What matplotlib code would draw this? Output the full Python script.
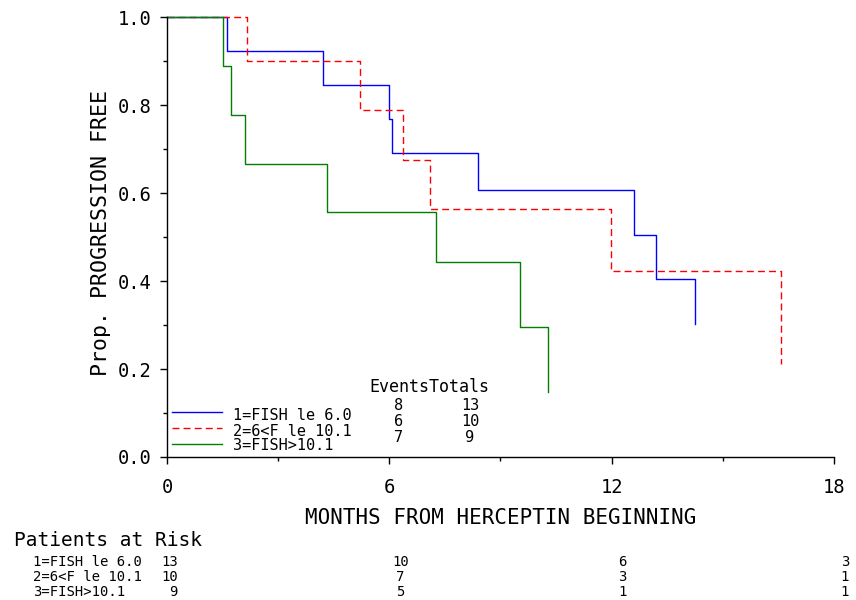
import matplotlib
matplotlib.use("Agg")
import matplotlib.pyplot as plt
from matplotlib.ticker import MultipleLocator, FixedLocator

FONT = "DejaVu Sans Mono"
plt.rcParams['font.family'] = [FONT]

# ---- data ----
group_labels = ["1=FISH le 6.0", "2=6<F le 10.1", "3=FISH>10.1"]
events = [8, 6, 7]
totals = [13, 10, 9]

t1 = [0, 1.62, 4.21, 5.99, 6.07, 8.38, 12.60, 13.20, 14.25]
s1 = [1.0, 0.923, 0.846, 0.769, 0.692, 0.606, 0.505, 0.404, 0.303]
t2 = [0, 2.16, 5.22, 6.37, 7.10, 11.98, 16.57]
s2 = [1.0, 0.900, 0.788, 0.675, 0.563, 0.422, 0.211]
t3 = [0, 1.52, 1.73, 2.10, 4.33, 7.27, 9.53, 10.27]
s3 = [1.0, 0.889, 0.778, 0.667, 0.556, 0.444, 0.296, 0.148]

risk_times = [0, 6, 12, 18]
risk1 = [13, 10, 6, 3]
risk2 = [10, 7, 3, 1]
risk3 = [9, 5, 1, 1]

x_ticks = [0, 6, 12, 18]
y_ticks = [0.0, 0.2, 0.4, 0.6, 0.8, 1.0]

W, H = 856, 600
fig = plt.figure(figsize=(W / 100, H / 100), dpi=100)
ax = fig.add_axes([167 / W, 1 - 457 / H, (834 - 167) / W, (457 - 17) / H])

styles = [dict(color="#0000ff", lw=1.0, ls="-"),
          dict(color="#ff0000", lw=1.0, ls=(0, (5, 3))),
          dict(color="#008000", lw=1.0, ls="-")]
curves = [(t1, s1), (t2, s2), (t3, s3)]
for (t, s), st in zip(curves, styles):
    ax.plot(t, s, drawstyle="steps-post", clip_on=False, **st)

ax.set_xlim(0, 18)
ax.set_ylim(0, 1.0)
for sp in ["top", "right"]:
    ax.spines[sp].set_visible(False)
for sp in ["left", "bottom"]:
    ax.spines[sp].set_linewidth(1.0)

ax.xaxis.set_major_locator(FixedLocator(x_ticks))
ax.set_xticklabels([str(v) for v in x_ticks])
ax.xaxis.set_minor_locator(MultipleLocator(3))
ax.yaxis.set_major_locator(FixedLocator(y_ticks))
ax.set_yticklabels([f"{v:.1f}" for v in y_ticks])
ax.yaxis.set_minor_locator(MultipleLocator(0.1))
ax.tick_params(axis="both", which="major", length=5, width=1.0, labelsize=13.5)
ax.tick_params(axis="x", which="major", pad=10)
ax.tick_params(axis="y", which="major", pad=6)
ax.tick_params(axis="both", which="minor", length=3, width=1.0)

ax.set_xlabel("MONTHS FROM HERCEPTIN BEGINNING", fontsize=15)
ax.xaxis.set_label_coords(0.5, -(518 - 457) / (457 - 17), transform=ax.transAxes)
ax.xaxis.label.set_verticalalignment("center")
ax.set_ylabel("Prop. PROGRESSION FREE", fontsize=15.5)
ax.yaxis.set_label_coords(-(167 - 101) / (834 - 167), (457 - 233) / (457 - 17), transform=ax.transAxes)
ax.yaxis.label.set_verticalalignment("center")

def fx(px):
    return px / W

def fy(py):
    return 1 - py / H

# legend block
LF = 11
fig.text(fx(369), fy(387), "EventsTotals", fontsize=12, va="center", ha="left")
line_y = [412, 428, 444]
text_y = [415, 431, 446]
num_y = [406, 422, 438]
for i, st in enumerate(styles):
    fig.add_artist(plt.Line2D([fx(172), fx(222)], [fy(line_y[i])] * 2, transform=fig.transFigure, **st))
    fig.text(fx(233), fy(text_y[i]), group_labels[i], fontsize=LF, va="center", ha="left")
    fig.text(fx(399), fy(num_y[i]), str(events[i]), fontsize=LF, va="center", ha="center")
    fig.text(fx(470), fy(num_y[i]), str(totals[i]), fontsize=LF, va="center", ha="center")

# patients at risk
RF = 10
fig.text(fx(14), fy(540), "Patients at Risk", fontsize=14, va="center", ha="left")
risk_rows = [risk1, risk2, risk3]
row_y = [562, 577, 592]
col_px = [ax.transData.transform((t, 0))[0] for t in risk_times]
for i, row in enumerate(risk_rows):
    fig.text(fx(33), fy(row_y[i]), group_labels[i], fontsize=RF, va="center", ha="left")
    for j, n in enumerate(row):
        x = col_px[j] + 11
        fig.text(fx(x), fy(row_y[i]), str(n), fontsize=RF, va="center",
                 ha="right" if j == 0 else "center")

fig.savefig("out.png", dpi=100)
